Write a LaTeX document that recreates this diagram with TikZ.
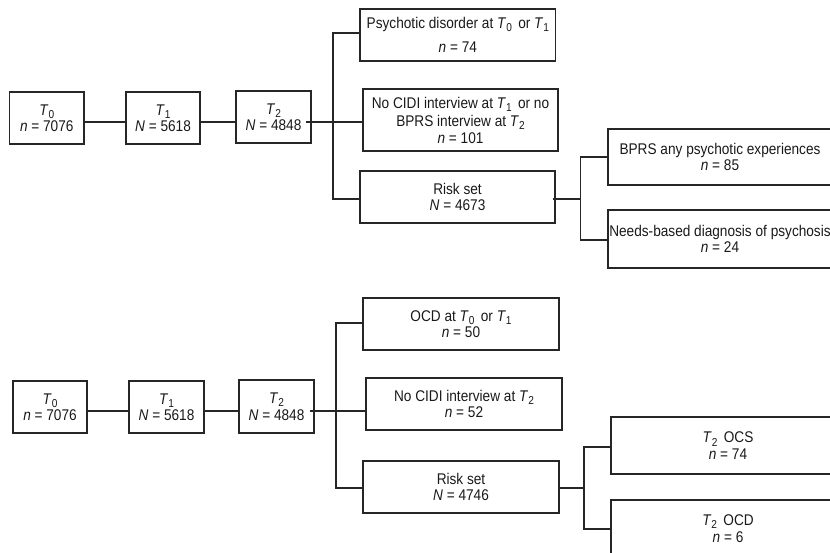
\documentclass[tikz,border=0pt]{standalone}
\usepackage{fontspec}
\setmainfont[FakeStretch=0.88]{Liberation Sans}
\usetikzlibrary{calc}
\newcommand\Tz[1]{\textit{T}\raisebox{-0.22em}{\fontsize{11.5}{12}\selectfont #1}}
\begin{document}
\begin{tikzpicture}[x=1pt,y=-1pt,
  box/.style={draw=black!85, line width=1.1pt, align=center, inner sep=0pt,
    font=\fontsize{15.5}{16.5}\selectfont, text=black!90},
  link/.style={draw=black!85, line width=1.1pt}]
\useasboundingbox (0,0) rectangle (830,553);
\clip (0,0) rectangle (830,553);
% ---------- top diagram ----------
\node[box, minimum width=74.5pt, minimum height=52pt] (t0) at (46.75,118) {\Tz{0}\\\textit{n} = 7076};
\node[box, minimum width=74pt, minimum height=52pt] (t1) at (163,118) {\Tz{1}\\\textit{N} = 5618};
\node[box, minimum width=75pt, minimum height=52pt] (t2) at (273.5,117) {\Tz{2}\\\textit{N} = 4848};
\node[box, minimum width=195.7pt, minimum height=52pt] (a) at (457.85,35) {Psychotic disorder at \Tz{0}\, or \Tz{1}\\[8pt]\textit{n} = 74};
\node[box, minimum width=195pt, minimum height=62pt] (b) at (460.5,120) {No CIDI interview at \Tz{1}\, or no\\[2pt]BPRS interview at \Tz{2}\\\textit{n} = 101};
\node[box, minimum width=195pt, minimum height=52pt] (c) at (457.5,197) {Risk set\\\textit{N} = 4673};
\node[box, minimum width=224pt, minimum height=56pt] (d) at (720,157) {BPRS any psychotic experiences\\\textit{n} = 85};
\node[box, minimum width=224pt, minimum height=58pt] (e) at (720,239) {Needs-based diagnosis of psychosis\\\textit{n} = 24};
\coordinate (m1) at (0,122);
\coordinate (ya) at (0,33);
\coordinate (yc) at (0,199);
\coordinate (j1) at (333,122);
\coordinate (j2) at (580.5,199);
\coordinate (yd) at (0,157);
\coordinate (ye) at (0,240);
\draw[link] (t0.east |- m1) -- (t1.west |- m1);
\draw[link] (t1.east |- m1) -- (t2.west |- m1);
\draw[link] ($(t2.east |- m1)+(-6,0)$) -- (j1) -- (b.west |- m1);
\draw[link] (a.west |- ya) -| (j1) |- (c.west |- yc);
\draw[link] ($(c.east |- yc)+(-3,0)$) -- (j2);
\draw[link] (d.west |- yd) -| (j2) |- (e.west |- ye);
% ---------- bottom diagram ----------
\node[box, minimum width=74pt, minimum height=52pt] (u0) at (50,407) {\Tz{0}\\\textit{n} = 7076};
\node[box, minimum width=75pt, minimum height=52pt] (u1) at (166.5,407) {\Tz{1}\\\textit{N} = 5618};
\node[box, minimum width=75pt, minimum height=53pt] (u2) at (276.5,406.5) {\Tz{2}\\\textit{N} = 4848};
\node[box, minimum width=196pt, minimum height=52pt] (a2) at (461,324) {OCD at \Tz{0}\, or \Tz{1}\\\textit{n} = 50};
\node[box, minimum width=196pt, minimum height=52pt] (b2) at (464,404) {No CIDI interview at \Tz{2}\\\textit{n} = 52};
\node[box, minimum width=196pt, minimum height=52pt] (c2) at (461,487) {Risk set\\\textit{N} = 4746};
\node[box, minimum width=234pt, minimum height=57pt] (d2) at (728,445.5) {\Tz{2}\, OCS\\\textit{n} = 74};
\node[box, minimum width=234pt, minimum height=57pt] (e2) at (728,528.5) {\Tz{2}\, OCD\\\textit{n} = 6};
\coordinate (m2) at (0,411);
\coordinate (ya2) at (0,323);
\coordinate (yc2) at (0,488);
\coordinate (j3) at (336,411);
\coordinate (j4) at (584,488);
\coordinate (yd2) at (0,447);
\coordinate (ye2) at (0,529);
\draw[link] (u0.east |- m2) -- (u1.west |- m2);
\draw[link] (u1.east |- m2) -- (u2.west |- m2);
\draw[link] ($(u2.east |- m2)+(-5,0)$) -- (j3) -- (b2.west |- m2);
\draw[link] (a2.west |- ya2) -| (j3) |- (c2.west |- yc2);
\draw[link] (c2.east |- yc2) -- (j4);
\draw[link] (d2.west |- yd2) -| (j4) |- (e2.west |- ye2);
\end{tikzpicture}
\end{document}
